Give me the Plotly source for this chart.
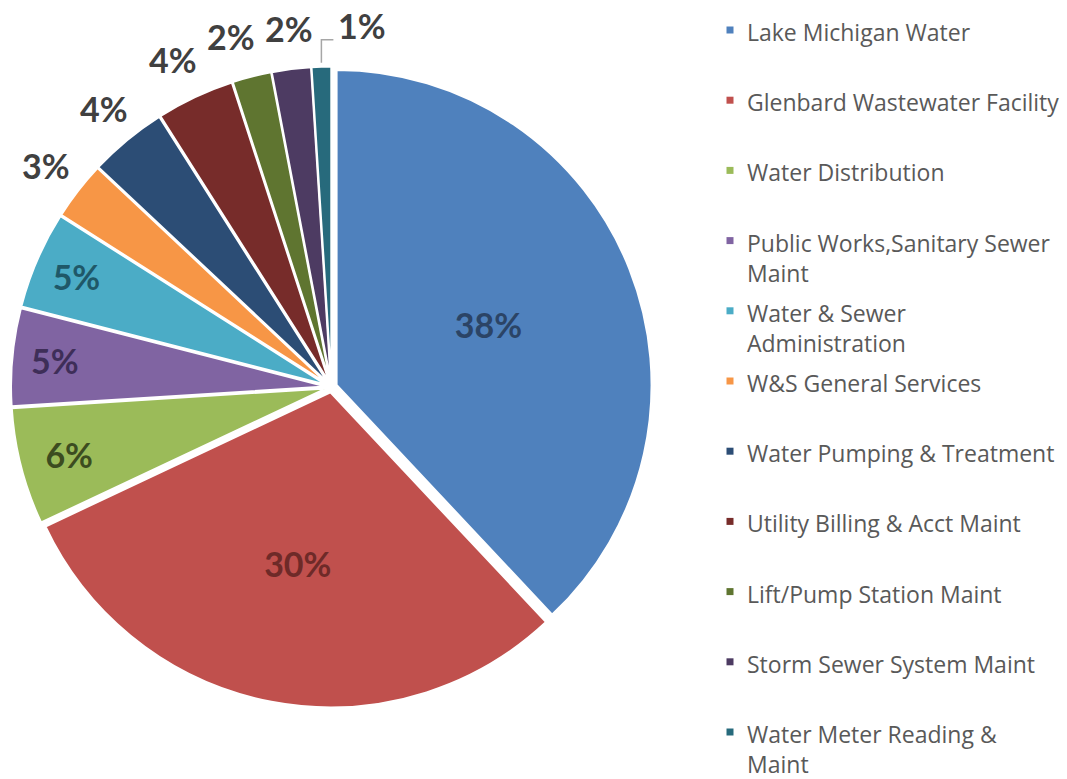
import math
import plotly.graph_objects as go

W, H = 1067, 779

categories = [
    "Lake Michigan Water",
    "Glenbard Wastewater Facility",
    "Water Distribution",
    "Public Works,Sanitary Sewer Maint",
    "Water & Sewer Administration",
    "W&S General Services",
    "Water Pumping & Treatment",
    "Utility Billing & Acct Maint",
    "Lift/Pump Station Maint",
    "Storm Sewer System Maint",
    "Water Meter Reading & Maint",
]
# legend text, with the line breaks used in the legend column
legend_labels = [
    "Lake Michigan Water",
    "Glenbard Wastewater Facility",
    "Water Distribution",
    "Public Works,Sanitary Sewer<br>Maint",
    "Water & Sewer<br>Administration",
    "W&S General Services",
    "Water Pumping & Treatment",
    "Utility Billing & Acct Maint",
    "Lift/Pump Station Maint",
    "Storm Sewer System Maint",
    "Water Meter Reading &<br>Maint",
]
shares = [38, 30, 6, 5, 5, 3, 4, 4, 2, 2, 1]

colors = ["#4F81BD", "#C0504D", "#9BBB59", "#8064A2", "#4BACC6", "#F79646",
          "#2C4D75", "#772C2A", "#5F7530", "#4D3B62", "#276A7C"]
label_colors = ["#2B4466", "#6E2A28", "#3C4C20", "#3E2E58", "#1F5868", "#404040",
                "#404040", "#404040", "#404040", "#404040", "#404040"]
n_inside = 5  # the first slices carry their label inside

# pie placement (paper fractions) and explode amount
dom_x, dom_y, pull = [0.0098, 0.6115], [0.0918, 0.9146], 0.0175
label_font = dict(family="Lato", size=34, weight="bold")

positions = ["inside" if i < n_inside else "none" for i in range(len(shares))]

fig = go.Figure(go.Pie(
    labels=categories,
    values=shares,
    sort=False,
    direction="clockwise",
    rotation=0,
    pull=pull,
    marker=dict(colors=colors, line=dict(color="white", width=2)),
    texttemplate="%{value}%",
    textposition=positions,
    insidetextorientation="horizontal",
    textfont=dict(color=label_colors, **label_font),
    domain=dict(x=dom_x, y=dom_y),
    showlegend=False,
    hoverinfo="label+percent",
))

# geometry of the pie in pixels (same rule plotly uses for pulled pies)
cx = W * (dom_x[0] + dom_x[1]) / 2
cy = H * (1 - (dom_y[0] + dom_y[1]) / 2)
r = min(W * (dom_x[1] - dom_x[0]), H * (dom_y[1] - dom_y[0])) / (2 * (1 + pull))
d = r * pull
total = sum(shares)


def px(x, y):
    return x / W, 1 - y / H


annotations, shapes = [], []

# outside labels for the small slices: start on the bisector, then spread
size = label_font["size"]
gap = 9
labels_out = []
cum = 0.0
for i, v in enumerate(shares):
    mid = 2 * math.pi * (cum + v / 2) / total
    cum += v
    if i < n_inside:
        continue
    text = f"{v}%"
    ux, uy = math.sin(mid), -math.cos(mid)
    labels_out.append(dict(
        i=i, text=text, w=0.72 * size * len(text),
        x=cx + (r + d + 41) * ux, y=cy + (r + d + 41) * uy,
        tip=(cx + (r + d) * ux, cy + (r + d) * uy), leader=False,
    ))

# push right where a label would run into its neighbour
for k in range(1, len(labels_out)):
    a, b = labels_out[k - 1], labels_out[k]
    overlap = (a["x"] + a["w"] / 2 + gap) - (b["x"] - b["w"] / 2)
    if overlap > 0:
        b["x"] += overlap
        if overlap > 15:
            b["leader"] = True
            b["x"] = max(b["x"], b["tip"][0] + 16 + b["w"] / 2)

# keep the leader lines clear of the labels before them
for k in range(len(labels_out) - 1, 0, -1):
    b = labels_out[k]
    if not b["leader"]:
        continue
    limit = b["tip"][0] - 8
    for j in range(k - 1, -1, -1):
        a = labels_out[j]
        over = a["x"] + a["w"] / 2 - limit
        if over <= 0:
            break
        a["x"] -= over
        limit = a["x"] - a["w"] / 2 - gap

for lab in labels_out:
    if lab["leader"]:
        sx, sy = lab["tip"]
        ey = lab["y"] + 14
        x0, y0 = px(sx, sy - 4)
        x1, y1 = px(sx, ey)
        x2, y2 = px(lab["x"] - lab["w"] / 2 - 4, ey)
        shapes.append(dict(
            type="path", xref="paper", yref="paper",
            path=f"M {x0},{y0} L {x1},{y1} L {x2},{y2}",
            line=dict(color="#A6A6A6", width=1.5),
        ))
    ax, ay = px(lab["x"], lab["y"])
    annotations.append(dict(
        x=ax, y=ay, xref="paper", yref="paper",
        xanchor="center", yanchor="middle", text=lab["text"], showarrow=False,
        font=dict(color=label_colors[lab["i"]], **label_font),
    ))

# legend column on the right
slot0, step = 30, 70.2
text_x, box_x, box = 745, 730, 7
for i, (lab, col) in enumerate(zip(legend_labels, colors)):
    y = slot0 + i * step
    ax, ay = px(text_x, y)
    annotations.append(dict(
        x=ax, y=ay, xref="paper", yref="paper",
        xanchor="left", yanchor="top", yshift=16, align="left",
        text=lab, showarrow=False,
        font=dict(family="Open Sans", size=23, color="#595959"),
    ))
    x0, y0 = px(box_x - box / 2, y + box / 2)
    x1, y1 = px(box_x + box / 2, y - box / 2)
    shapes.append(dict(
        type="rect", xref="paper", yref="paper",
        x0=x0, x1=x1, y0=y0, y1=y1,
        fillcolor=col, line=dict(width=0),
    ))

fig.update_layout(
    width=W, height=H,
    margin=dict(l=0, r=0, t=0, b=0, autoexpand=False),
    paper_bgcolor="white",
    plot_bgcolor="white",
    annotations=annotations,
    shapes=shapes,
)

fig.write_html("out.html")
